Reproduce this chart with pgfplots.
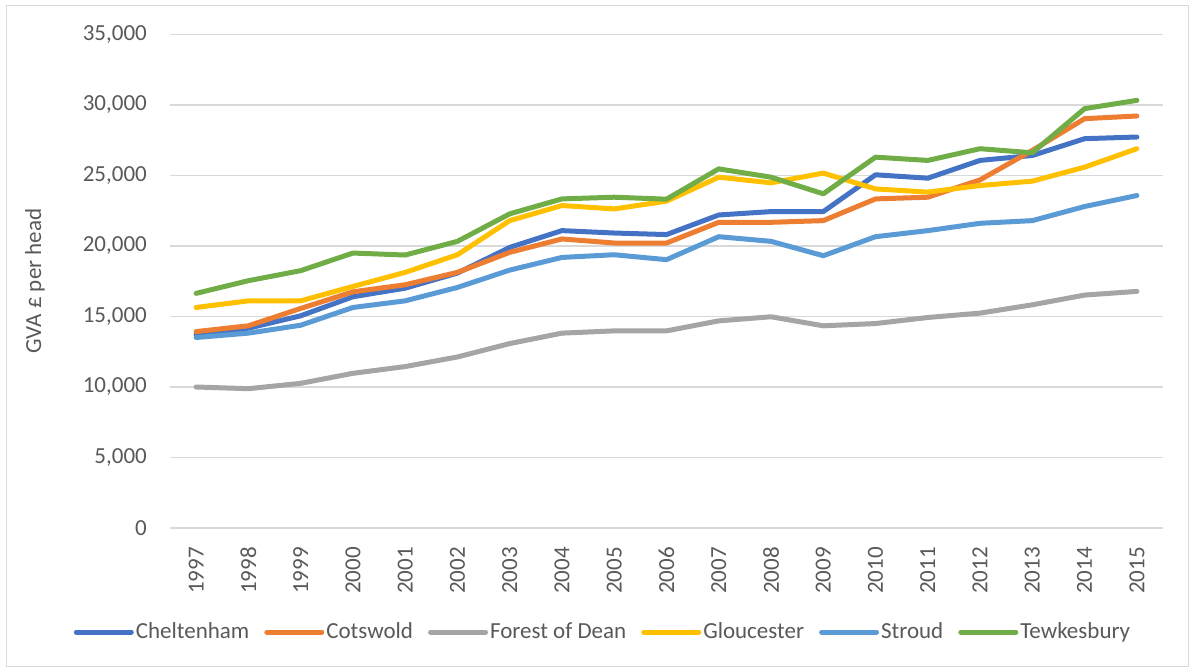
\documentclass[border=0pt]{standalone}
\usepackage{pgfplots}
\usepackage{pgfplotstable}
\pgfplotsset{compat=1.18}
\usepackage{fontspec}
\setmainfont{Carlito}
\definecolor{cChel}{HTML}{4472C4}
\definecolor{cCots}{HTML}{ED7D31}
\definecolor{cFor}{HTML}{A5A5A5}
\definecolor{cGlo}{HTML}{FFC000}
\definecolor{cStr}{HTML}{5B9BD5}
\definecolor{cTew}{HTML}{70AD47}
\definecolor{txt}{HTML}{595959}
\definecolor{grd}{HTML}{D9D9D9}
\pgfplotstableread{
x Chel Cots For Glo Str Tew
0 13700 13930 10000 15640 13510 16640
1 14170 14340 9880 16110 13820 17540
2 15050 15570 10260 16110 14380 18250
3 16400 16750 10970 17130 15640 19500
4 17010 17250 11450 18130 16110 19360
5 18080 18130 12130 19380 17060 20330
6 19900 19550 13080 21800 18290 22280
7 21090 20500 13820 22870 19190 23340
8 20920 20210 13980 22630 19380 23460
9 20810 20210 13980 23180 19030 23320
10 22200 21680 14690 24880 20660 25470
11 22440 21680 14980 24480 20330 24880
12 22440 21800 14340 25170 19310 23700
13 25050 23340 14500 24050 20660 26300
14 24810 23460 14930 23820 21090 26070
15 26070 24690 15240 24290 21610 26900
16 26420 26780 15830 24600 21800 26610
17 27610 29030 16520 25590 22800 29740
18 27730 29220 16780 26900 23580 30330
}\datatable
\begin{document}
\fontsize{23bp}{27bp}\selectfont
\begin{tikzpicture}
\useasboundingbox (-170bp,-140bp) rectangle (1020bp,528bp);
\draw[grd, line width=1bp] (-163bp,-138bp) rectangle (1018bp,522bp);
\begin{axis}[
  scale only axis,
  width=993bp, height=493.5bp,
  at={(0,0)}, anchor=south west,
  xmin=-0.5, xmax=18.5,
  ymin=0, ymax=35000,
  ytick={0,5000,...,35000},
  xtick={0,...,18},
  xticklabels={1997,1998,1999,2000,2001,2002,2003,2004,2005,2006,2007,2008,2009,2010,2011,2012,2013,2014,2015},
  axis line style={draw=none},
  major tick length=0pt,
  ymajorgrids,
  grid style={grd, line width=1.2bp},
  /pgf/number format/assume math mode=true,
  /pgf/number format/1000 sep={,},
  scaled y ticks=false,
  ticklabel style={font=\fontsize{23bp}{27bp}\selectfont, text=txt},
  yticklabel style={anchor=east, inner sep=0pt, xshift=-23bp},
  xticklabel style={rotate=90, anchor=east, inner sep=0pt, xshift=-19bp},
  ylabel={GVA £ per head},
  ylabel style={at={(axis description cs:0,0.5)}, anchor=center, yshift=135bp, text=txt, font=\fontsize{23bp}{27bp}\selectfont},
  legend columns=6,
  legend style={at={(axis description cs:0.436,-0.211)}, anchor=center, draw=none, fill=none,
    font=\fontsize{23bp}{27bp}\selectfont, text=txt,
    /tikz/every even column/.append style={column sep=13bp},
    nodes={inner sep=2bp}},
  legend cell align=left,
  legend image code/.code={\draw[#1, line cap=round] (0bp,0bp) -- (55bp,0bp);},
  every axis plot/.append style={line width=5bp, line join=round, line cap=round},
  clip=false,
]
\addplot[cChel] table[x=x,y=Chel]{\datatable};
\addlegendentry{Cheltenham}
\addplot[cCots] table[x=x,y=Cots]{\datatable};
\addlegendentry{Cotswold}
\addplot[cFor] table[x=x,y=For]{\datatable};
\addlegendentry{Forest of Dean}
\addplot[cGlo] table[x=x,y=Glo]{\datatable};
\addlegendentry{Gloucester}
\addplot[cStr] table[x=x,y=Str]{\datatable};
\addlegendentry{Stroud}
\addplot[cTew] table[x=x,y=Tew]{\datatable};
\addlegendentry{Tewkesbury}
\end{axis}
\end{tikzpicture}
\end{document}
